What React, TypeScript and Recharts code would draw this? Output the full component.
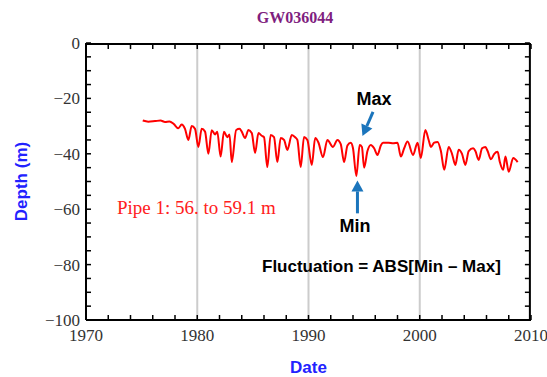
import { Label, Line, LineChart, ReferenceLine, XAxis, YAxis } from 'recharts';

const years = [
  1975.1, 1975.6, 1976.2, 1976.7, 1977.1, 1977.5, 1977.9, 1978.3, 1978.6, 1978.9,
  1979.2, 1979.5, 1979.8, 1980.1, 1980.4, 1980.7, 1981.0, 1981.3, 1981.6, 1981.8,
  1982.1, 1982.4, 1982.7, 1982.9, 1983.1, 1983.5, 1983.8, 1984.0, 1984.3, 1984.6,
  1984.9, 1985.2, 1985.5, 1985.8, 1986.0, 1986.3, 1986.6, 1986.9, 1987.2, 1987.5,
  1987.8, 1988.1, 1988.5, 1988.8, 1989.0, 1989.3, 1989.6, 1989.9, 1990.3, 1990.6,
  1990.9, 1991.3, 1991.7, 1992.2, 1992.6, 1992.9, 1993.2, 1993.5, 1993.8, 1994.0,
  1994.3, 1994.6, 1994.8, 1995.0, 1995.3, 1995.6, 1995.9, 1996.2, 1996.5, 1996.7,
  1997.2, 1997.6, 1998.0, 1998.3, 1998.6, 1998.9, 1999.4, 1999.8, 2000.1, 2000.5,
  2000.8, 2001.0, 2001.3, 2001.6, 2001.9, 2002.2, 2002.6, 2002.9, 2003.2, 2003.5,
  2003.8, 2004.1, 2004.4, 2004.8, 2005.0, 2005.3, 2005.6, 2005.9, 2006.1, 2006.4,
  2006.7, 2007.0, 2007.2, 2007.5, 2007.7, 2008.0, 2008.4, 2008.8,
];

const depths = [
  -28.0, -28.4, -28.2, -28.0, -28.5, -28.3, -29.3, -30.8, -29.4, -31.0,
  -35.0, -30.0, -31.0, -37.5, -31.0, -32.0, -40.0, -31.5, -33.0, -32.0,
  -41.0, -32.0, -34.0, -33.0, -43.0, -31.4, -31.0, -32.0, -34.3, -31.4,
  -32.5, -39.7, -32.5, -33.5, -34.0, -44.8, -33.2, -34.0, -43.0, -34.3,
  -35.0, -38.6, -33.2, -34.0, -35.0, -44.8, -33.9, -35.0, -44.0, -34.3,
  -36.0, -41.2, -35.0, -37.5, -35.0, -36.5, -43.0, -37.0, -36.0, -38.0,
  -48.0, -36.8, -37.5, -45.0, -39.0, -36.8, -38.0, -40.4, -37.0, -36.0,
  -36.0, -36.2, -36.0, -41.0, -38.0, -35.6, -40.4, -36.0, -41.5, -31.4,
  -35.0, -37.5, -36.0, -35.7, -39.0, -45.8, -37.5, -40.0, -44.0, -38.5,
  -40.0, -44.0, -39.0, -38.0, -39.0, -42.2, -38.0, -37.5, -39.0, -42.0,
  -40.0, -39.3, -43.0, -45.8, -41.0, -46.5, -41.5, -43.0,
];

const xTicks = [
  1970, 1972, 1974, 1976, 1978, 1980, 1982, 1984, 1986, 1988, 1990,
  1992, 1994, 1996, 1998, 2000, 2002, 2004, 2006, 2008, 2010,
];
const xLabels = [1970, 1980, 1990, 2000, 2010];
const yTicks = [
  -100, -95, -90, -85, -80, -75, -70, -65, -60, -55, -50,
  -45, -40, -35, -30, -25, -20, -15, -10, -5, 0,
];
const yLabels = [-100, -80, -60, -40, -20, 0];
const gridYears = [1980, 1990, 2000];

const maxArrow = [{ x: 1995.8, y: -24.9 }, { x: 1994.85, y: -33.6 }];
const minArrow = [{ x: 1994.4, y: -61.5 }, { x: 1994.4, y: -49.6 }];

const data = years.map((year, i) => ({ year, depth: depths[i] }));

const W = 547;
const H = 377;
const MARGIN = { top: 43, right: 16, bottom: 0, left: 0 };
const Y_AXIS_W = 86;
const X_AXIS_H = 57;
const TICK = 5;

const X0 = xTicks[0];
const X1 = xTicks[xTicks.length - 1];
const Y0 = yTicks[0];
const Y1 = yTicks[yTicks.length - 1];

const ARROW = '#1b75bc';
const serif = 'Liberation Serif, serif';
const sans = 'Liberation Sans, Arial, sans-serif';

function Arrow(props: any) {
  const { x1, y1, x2, y2 } = props;
  const ang = Math.atan2(y2 - y1, x2 - x1);
  const len = 11;
  const half = 6;
  const bx = x2 - len * Math.cos(ang);
  const by = y2 - len * Math.sin(ang);
  const px = -Math.sin(ang) * half;
  const py = Math.cos(ang) * half;
  return (
    <g>
      <line x1={x1} y1={y1} x2={bx} y2={by} stroke={ARROW} strokeWidth={3} />
      <polygon points={`${x2},${y2} ${bx + px},${by + py} ${bx - px},${by - py}`} fill={ARROW} />
    </g>
  );
}

// top edge: full line plus inward ticks spaced like the x ticks
function TopEdge(props: any) {
  const { x1, y1, x2, y2 } = props;
  const y = Math.min(y1, y2);
  const left = Math.min(x1, x2);
  const w = Math.abs(x2 - x1);
  return (
    <g>
      <line x1={x1} y1={y} x2={x2} y2={y} stroke="#000" strokeWidth={2} />
      {xTicks.map((t) => {
        const x = left + ((t - X0) / (X1 - X0)) * w;
        return <line key={t} x1={x} y1={y} x2={x} y2={y + TICK} stroke="#000" strokeWidth={1.5} />;
      })}
    </g>
  );
}

// right edge: full line plus inward ticks spaced like the y ticks
function RightEdge(props: any) {
  const { x1, y1, y2 } = props;
  const top = Math.min(y1, y2);
  const bottom = Math.max(y1, y2);
  const h = bottom - top;
  return (
    <g>
      <line x1={x1} y1={top} x2={x1} y2={bottom} stroke="#000" strokeWidth={2} />
      {yTicks.map((t) => {
        const y = bottom - ((t - Y0) / (Y1 - Y0)) * h;
        return <line key={t} x1={x1} y1={y} x2={x1 - TICK} y2={y} stroke="#000" strokeWidth={1.5} />;
      })}
    </g>
  );
}

const fmtY = (v: number) =>
  yLabels.includes(v) ? (v < 0 ? '\u2212' + Math.abs(v) : String(v)) : '';
const fmtX = (v: number) => (xLabels.includes(v) ? String(v) : '');

const tickFont = { fill: '#333', fontSize: 17, fontFamily: serif };
const frame = { stroke: '#000', strokeWidth: 2 };
const tickStroke = { stroke: '#000', strokeWidth: 1.5 };

export default function App() {
  return (
    <div style={{ position: 'absolute', left: 0, top: 0, width: W, height: H, background: '#fff' }}>
      <LineChart width={W} height={H} data={data} margin={MARGIN}>
        <XAxis
          dataKey="year"
          type="number"
          domain={[X0, X1]}
          ticks={xTicks}
          interval={0}
          tickSize={-TICK}
          tickMargin={14}
          tickFormatter={fmtX}
          tick={tickFont}
          axisLine={frame}
          tickLine={tickStroke}
          height={X_AXIS_H}
        >
          <Label
            value="Date"
            position="insideBottom"
            offset={4}
            style={{ fill: '#2222ff', fontSize: 17, fontWeight: 'bold', fontFamily: sans }}
          />
        </XAxis>
        <YAxis
          type="number"
          domain={[Y0, Y1]}
          ticks={yTicks}
          interval={0}
          tickSize={-TICK}
          tickMargin={11}
          tickFormatter={fmtY}
          tick={tickFont}
          axisLine={frame}
          tickLine={tickStroke}
          width={Y_AXIS_W}
        >
          <Label
            value="Depth (m)"
            angle={-90}
            position="insideLeft"
            offset={21}
            style={{ fill: '#2222ff', fontSize: 17, fontWeight: 'bold', fontFamily: sans, textAnchor: 'middle' }}
          />
        </YAxis>
        {gridYears.map((g) => (
          <ReferenceLine key={g} x={g} stroke="#cccccc" strokeWidth={2} />
        ))}
        <ReferenceLine y={Y1 - 0.4} shape={TopEdge} />
        <ReferenceLine x={X1 - 0.1} shape={RightEdge} />
        <Line
          type="monotone"
          dataKey="depth"
          stroke="#ff0000"
          strokeWidth={2}
          dot={false}
          isAnimationActive={false}
        />
        <ReferenceLine segment={maxArrow} shape={Arrow} />
        <ReferenceLine segment={minArrow} shape={Arrow} />
      </LineChart>
      <svg width={W} height={H} style={{ position: 'absolute', left: 0, top: 0, pointerEvents: 'none' }}>
        <text x={295} y={23} textAnchor="middle" fill="#7f1f7f" fontSize={16} fontWeight="bold" fontFamily={serif}>
          GW036044
        </text>
        <text x={117} y={214} fill="#ff2020" fontSize={19} fontFamily={serif}>
          Pipe 1: 56. to 59.1 m
        </text>
        <text x={374} y={105} textAnchor="middle" fill="#000" fontSize={18} fontWeight="bold" fontFamily={sans}>
          Max
        </text>
        <text x={355} y={232} textAnchor="middle" fill="#000" fontSize={18} fontWeight="bold" fontFamily={sans}>
          Min
        </text>
        <text x={262} y={272} fill="#000" fontSize={17} fontWeight="bold" fontFamily={sans}>
          Fluctuation = ABS[Min – Max]
        </text>
      </svg>
    </div>
  );
}
